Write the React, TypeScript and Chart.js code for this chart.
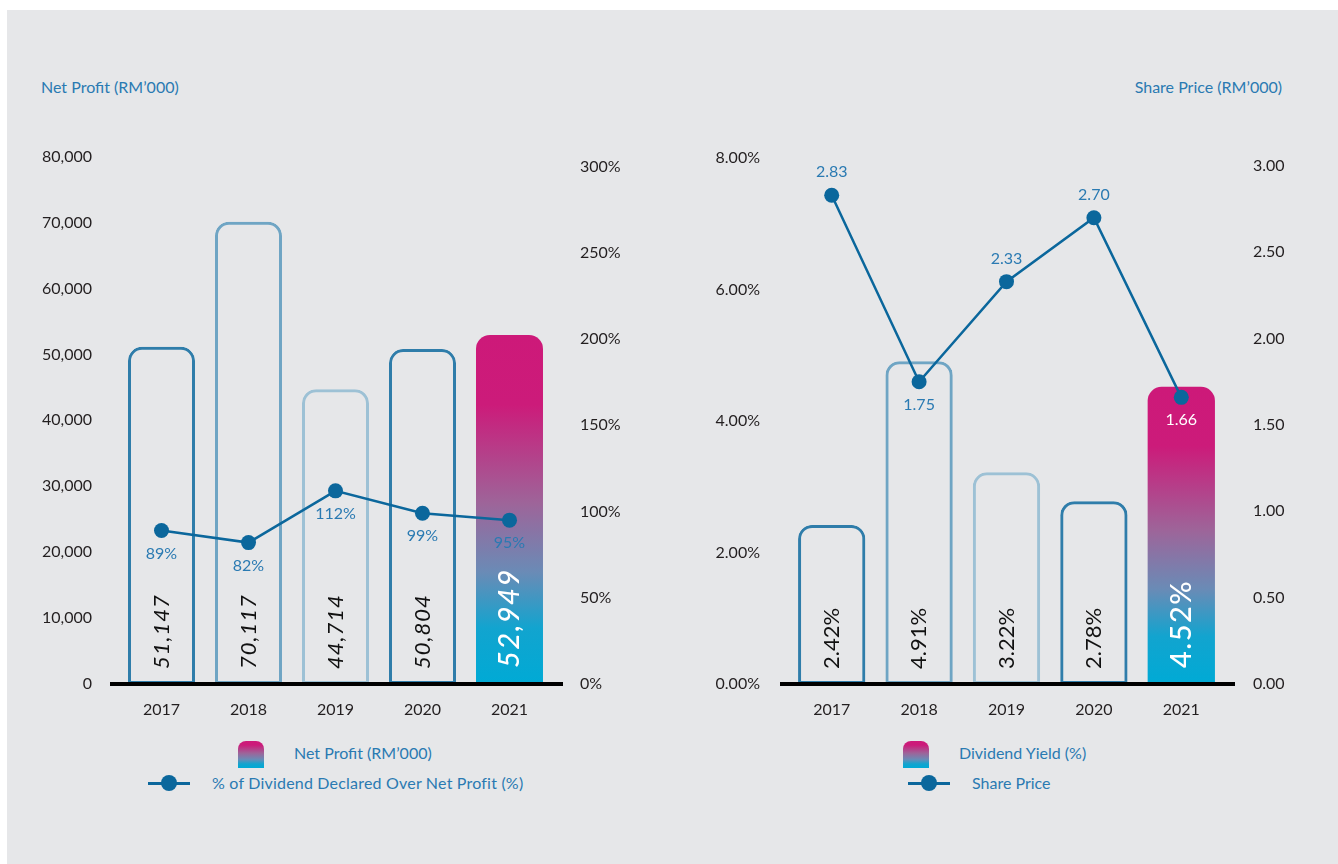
import React, { useEffect, useRef } from 'react';
import { Chart, registerables } from 'chart.js';

Chart.register(...registerables);

// ---------- data ----------
const years = ['2017', '2018', '2019', '2020', '2021'];
const netProfit = [51147, 70117, 44714, 50804, 52949];
const netProfitLabels = ['51,147', '70,117', '44,714', '50,804', '52,949'];
const dividendPct = [89, 82, 112, 99, 95];
const dividendYield = [2.42, 4.91, 3.22, 2.78, 4.52];
const sharePrice = [2.83, 1.75, 2.33, 2.7, 1.66];
const sharePriceLabels = ['2.83', '1.75', '2.33', '2.70', '1.66'];

const netProfitTicks = [0, 10000, 20000, 30000, 40000, 50000, 60000, 70000, 80000];
const dividendPctTicks = [0, 50, 100, 150, 200, 250, 300];
const dividendYieldTicks = [0, 2, 4, 6, 8];
const sharePriceTicks = [0, 0.5, 1, 1.5, 2, 2.5, 3];

// ---------- style ----------
const FONT = 'Lato, "Noto Sans", sans-serif';
const BG = '#E6E7E9';
const AXIS_TEXT = '#231F20';
const LABEL_BLUE = '#2A7AB2';
const LINE_BLUE = '#0B679C';
const DARK = '#2F7DAA';
const MID = '#6FA5C4';
const LIGHT = '#9DC1D5';
const barBorders = [DARK, MID, LIGHT, DARK, 'rgba(0,0,0,0)'];
const barBorderWidths = [3, 3, 3, 3, 0];

const gradStops: [number, string][] = [
  [0, '#CD1979'],
  [0.2, '#CC1B7A'],
  [0.48, '#9E6499'],
  [0.68, '#6A8BB6'],
  [0.84, '#12A4CF'],
  [1, '#00AAD5'],
];

type ChartCfg = {
  barValues: number[];
  barLabels: string[];
  lineValues: number[];
  lineLabels: string[];
  lineLabelPos: number[]; // -1 above, +1 below
  lineLabelColors: string[];
  barItalic: boolean;
  barFont: number;
  barSpacing: string;
  yMax: number;
  yTicks: number[];
  yFmt: (v: number) => string;
  y1Max: number;
  y1Ticks: number[];
  y1Fmt: (v: number) => string;
  leftW: number;
  rightW: number;
  leftPad: number;
  rightPad: number;
  top: number;
};

function makeChart(canvas: HTMLCanvasElement, cfg: ChartCfg) {
  const overlay = {
    id: 'overlay',
    afterDatasetsDraw(chart: any) {
      const { ctx, chartArea } = chart;
      const barMeta = chart.getDatasetMeta(1);
      const lineMeta = chart.getDatasetMeta(0);
      // baseline
      ctx.save();
      ctx.strokeStyle = '#000';
      ctx.lineWidth = 4;
      ctx.beginPath();
      ctx.moveTo(chartArea.left - 8, chartArea.bottom);
      ctx.lineTo(chartArea.right + 10, chartArea.bottom);
      ctx.stroke();
      ctx.restore();
      // bar value labels (rotated)
      barMeta.data.forEach((el: any, i: number) => {
        const last = i === cfg.barLabels.length - 1;
        ctx.save();
        ctx.translate(el.x, el.base - (last ? 16 : 15));
        ctx.rotate(-Math.PI / 2);
        ctx.textAlign = 'left';
        ctx.textBaseline = 'middle';
        ctx.fillStyle = last ? '#FFFFFF' : '#111111';
        const style = cfg.barItalic ? 'italic ' : '';
        ctx.font = last ? `${style}500 29px ${FONT}` : `${style}${cfg.barFont}px ${FONT}`;
        try { (ctx as any).letterSpacing = last ? '1.5px' : cfg.barSpacing; } catch (e) {}
        ctx.fillText(cfg.barLabels[i], 0, 0);
        ctx.restore();
      });
      // line labels
      lineMeta.data.forEach((pt: any, i: number) => {
        ctx.save();
        ctx.textAlign = 'center';
        ctx.textBaseline = 'middle';
        ctx.fillStyle = cfg.lineLabelColors[i];
        ctx.font = `16px ${FONT}`;
        ctx.fillText(cfg.lineLabels[i], pt.x, pt.y + cfg.lineLabelPos[i] * 23);
        ctx.restore();
      });
    },
  };

  const tickFont = { family: FONT, size: 16 };

  return new Chart(canvas, {
    type: 'bar',
    data: {
      labels: years,
      datasets: [
        {
          type: 'line',
          data: cfg.lineValues,
          yAxisID: 'y1',
          borderColor: LINE_BLUE,
          backgroundColor: LINE_BLUE,
          borderWidth: 2.5,
          pointRadius: 7.5,
          pointHoverRadius: 7.5,
          pointBackgroundColor: LINE_BLUE,
          pointBorderWidth: 0,
          tension: 0,
        } as any,
        {
          type: 'bar',
          data: cfg.barValues,
          yAxisID: 'y',
          borderColor: barBorders,
          borderWidth: barBorderWidths,
          borderSkipped: false,
          borderRadius: { topLeft: 14, topRight: 14, bottomLeft: 0, bottomRight: 0 },
          categoryPercentage: 1,
          barPercentage: 0.77,
          backgroundColor: (c: any) => {
            if (c.dataIndex !== cfg.barValues.length - 1) return 'rgba(0,0,0,0)';
            const chart = c.chart;
            if (!chart.chartArea || !chart.scales.y) return '#CD1979';
            const top = chart.scales.y.getPixelForValue(cfg.barValues[c.dataIndex]);
            const bottom = chart.scales.y.getPixelForValue(0);
            const g = chart.ctx.createLinearGradient(0, top, 0, bottom);
            gradStops.forEach(([o, col]) => g.addColorStop(o, col));
            return g;
          },
        } as any,
      ],
    },
    options: {
      responsive: false,
      animation: false,
      devicePixelRatio: 1,
      layout: { padding: { top: cfg.top, left: 0, right: 0, bottom: 0 } },
      plugins: { legend: { display: false }, tooltip: { enabled: false } },
      events: [],
      scales: {
        x: {
          grid: { display: false },
          border: { display: false },
          ticks: { font: tickFont, color: AXIS_TEXT, padding: 8 },
          afterFit: (s: any) => { s.height = 56; },
        },
        y: {
          position: 'left',
          min: 0,
          max: cfg.yMax,
          grid: { display: false, drawTicks: false },
          border: { display: false },
          ticks: {
            font: tickFont,
            color: AXIS_TEXT,
            padding: cfg.leftPad,
            callback: (v: any) => cfg.yFmt(Number(v)),
          },
          afterBuildTicks: (s: any) => {
            s.ticks = cfg.yTicks.map((v) => ({ value: v }));
          },
          afterFit: (s: any) => { s.width = cfg.leftW; },
        },
        y1: {
          position: 'right',
          min: 0,
          max: cfg.y1Max,
          grid: { display: false, drawTicks: false },
          border: { display: false },
          ticks: {
            font: tickFont,
            color: AXIS_TEXT,
            padding: cfg.rightPad,
            callback: (v: any) => cfg.y1Fmt(Number(v)),
          },
          afterBuildTicks: (s: any) => {
            s.ticks = cfg.y1Ticks.map((v) => ({ value: v }));
          },
          afterFit: (s: any) => { s.width = cfg.rightW; },
        },
      },
    },
    plugins: [overlay],
  } as any);
}

const leftCfg: ChartCfg = {
  barValues: netProfit,
  barLabels: netProfitLabels,
  lineValues: dividendPct,
  lineLabels: dividendPct.map((v) => `${v}%`),
  lineLabelPos: [1, 1, 1, 1, 1],
  lineLabelColors: [LABEL_BLUE, LABEL_BLUE, LABEL_BLUE, LABEL_BLUE, LABEL_BLUE],
  barItalic: true,
  barFont: 22,
  barSpacing: '1px',
  yMax: 80000,
  yTicks: netProfitTicks,
  yFmt: (v) => v.toLocaleString('en-US'),
  y1Max: 305.8,
  y1Ticks: dividendPctTicks,
  y1Fmt: (v) => `${v}%`,
  leftW: 118,
  rightW: 116,
  leftPad: 26,
  rightPad: 27,
  top: 36,
};

const rightCfg: ChartCfg = {
  barValues: dividendYield,
  barLabels: dividendYield.map((v) => `${v.toFixed(2)}%`),
  lineValues: sharePrice,
  lineLabels: sharePriceLabels,
  lineLabelPos: [-1, 1, -1, -1, 1],
  lineLabelColors: [LABEL_BLUE, LABEL_BLUE, LABEL_BLUE, LABEL_BLUE, '#FFFFFF'],
  barItalic: false,
  barFont: 22,
  barSpacing: '0px',
  yMax: 8,
  yTicks: dividendYieldTicks,
  yFmt: (v) => `${v.toFixed(2)}%`,
  y1Max: 3.046,
  y1Ticks: sharePriceTicks,
  y1Fmt: (v) => v.toFixed(2),
  leftW: 119,
  rightW: 113,
  leftPad: 28,
  rightPad: 28,
  top: 38,
};

function ChartCanvas({ cfg, left }: { cfg: ChartCfg; left: number }) {
  const ref = useRef<HTMLCanvasElement>(null);
  useEffect(() => {
    if (!ref.current) return;
    const ch = makeChart(ref.current, cfg);
    return () => ch.destroy();
  }, [cfg]);
  return (
    <canvas
      ref={ref}
      width={669}
      height={620}
      style={{ position: 'absolute', left, top: 120, width: 669, height: 620 }}
    />
  );
}

const textStyle = (left: number, cy: number, extra: any = {}) => ({
  position: 'absolute' as const,
  left,
  top: cy - 10,
  height: 20,
  lineHeight: '20px',
  fontFamily: FONT,
  fontSize: 16,
  color: LABEL_BLUE,
  whiteSpace: 'nowrap' as const,
  ...extra,
});

const gradCss =
  'linear-gradient(to bottom, #CD1979 0%, #CC1B7A 15%, #9E6499 45%, #6A8BB6 68%, #12A4CF 85%, #00AAD5 100%)';

function BarIcon({ left }: { left: number }) {
  return (
    <div
      style={{
        position: 'absolute',
        left,
        top: 741,
        width: 26,
        height: 27,
        borderRadius: '8px 8px 0 0',
        background: gradCss,
      }}
    />
  );
}

function LineIcon({ left, width }: { left: number; width: number }) {
  return (
    <div style={{ position: 'absolute', left, top: 773, width, height: 20 }}>
      <div style={{ position: 'absolute', left: 0, top: 9, width, height: 2.5, background: LINE_BLUE }} />
      <div
        style={{
          position: 'absolute',
          left: width / 2 - 8,
          top: 2,
          width: 16,
          height: 16,
          borderRadius: 8,
          background: LINE_BLUE,
        }}
      />
    </div>
  );
}

export default function App() {
  return (
    <div style={{ position: 'absolute', left: 0, top: 0, width: 1338, height: 864, overflow: 'hidden' }}>
      <div style={{ position: 'absolute', left: 7, top: 10, width: 1331, height: 854, background: BG }} />
      <div style={textStyle(41, 87)}>Net Profit (RM’000)</div>
      <div style={textStyle(0, 87, { left: 'auto', right: 1338 - 1282 })}>Share Price (RM’000)</div>
      <ChartCanvas cfg={leftCfg} left={0} />
      <ChartCanvas cfg={rightCfg} left={669} />
      <BarIcon left={238} />
      <div style={textStyle(294, 753)}>Net Profit (RM’000)</div>
      <LineIcon left={148} width={42} />
      <div style={textStyle(212, 783, { letterSpacing: '0.2px' })}>% of Dividend Declared Over Net Profit (%)</div>
      <BarIcon left={903} />
      <div style={textStyle(959, 753)}>Dividend Yield (%)</div>
      <LineIcon left={908} width={42} />
      <div style={textStyle(972, 783)}>Share Price</div>
    </div>
  );
}
